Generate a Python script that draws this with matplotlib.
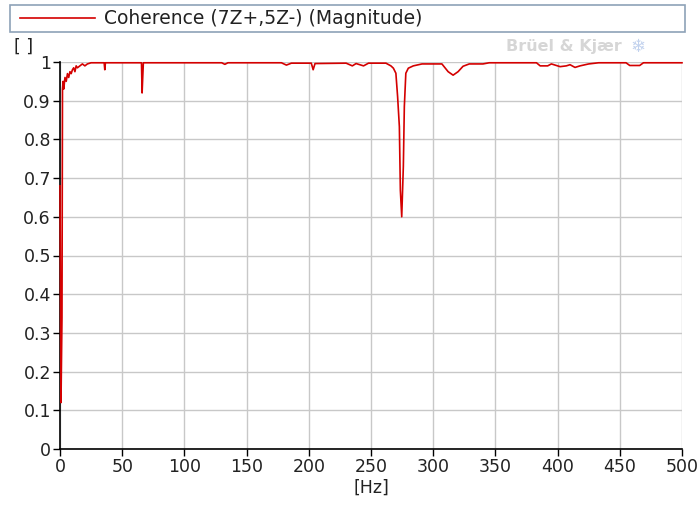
import matplotlib.pyplot as plt
from matplotlib.lines import Line2D
from matplotlib.patches import Rectangle

plt.rcParams["font.family"] = "DejaVu Sans"

# coherence magnitude, breakpoints along the frequency axis
FREQ_HZ = [
    0.0, 0.8, 1.6, 2.0, 2.5, 3.0, 4.0, 5.0, 6.0, 7.0, 8.0, 9.0, 10.0, 11.0,
    12.0, 13.0, 14.0, 16.0, 18.0, 20.0, 22.0, 25.0, 30.0,
    35.5, 36.0, 36.5, 50.0, 65.5, 66.0, 66.5, 67.0,
    130.0, 132.5, 135.0, 178.0, 182.0, 186.0, 202.0, 203.5, 205.0,
    230.0, 235.0, 238.0, 244.0, 248.0, 262.0, 266.0, 268.0, 270.0,
    271.4, 272.8, 273.6, 274.7, 275.3, 276.0, 276.8, 278.0, 280.0,
    284.0, 291.0, 307.0, 312.0, 316.0, 320.0, 324.0, 329.0, 340.0,
    345.0, 383.0, 386.0, 392.0, 395.0, 402.0, 407.0, 410.0, 414.0,
    418.0, 425.0, 433.0, 455.0, 458.0, 466.0, 469.0, 500.0,
]
COHERENCE = [
    0.68, 0.12, 0.34, 0.93, 0.95, 0.93, 0.96, 0.95, 0.97, 0.96, 0.975, 0.97, 0.98, 0.985,
    0.975, 0.99, 0.985, 0.99, 0.995, 0.99, 0.995, 0.998, 0.998,
    0.998, 0.98, 0.998, 0.998, 0.998, 0.92, 0.96, 0.998,
    0.998, 0.994, 0.998, 0.998, 0.992, 0.997, 0.997, 0.98, 0.996,
    0.997, 0.99, 0.996, 0.99, 0.997, 0.997, 0.99, 0.984, 0.971,
    0.91, 0.833, 0.669, 0.60, 0.66, 0.73, 0.885, 0.971, 0.984,
    0.99, 0.995, 0.995, 0.975, 0.966, 0.975, 0.989, 0.995, 0.995,
    0.998, 0.998, 0.99, 0.99, 0.995, 0.988, 0.99, 0.993, 0.986,
    0.99, 0.995, 0.998, 0.998, 0.991, 0.991, 0.998, 0.998,
]
SERIES_LABEL = "Coherence (7Z+,5Z-) (Magnitude)"

X_TICKS = [0, 50, 100, 150, 200, 250, 300, 350, 400, 450, 500]
Y_TICKS = [0, 0.1, 0.2, 0.3, 0.4, 0.5, 0.6, 0.7, 0.8, 0.9, 1]
Y_TICK_LABELS = ["0", "0.1", "0.2", "0.3", "0.4", "0.5", "0.6", "0.7", "0.8", "0.9", "1"]

RED = "#d40000"
TEXT = "#222222"
FS = 12.5

W, H = 700, 515
fig = plt.figure(figsize=(W / 100, H / 100), dpi=100)
ax = fig.add_axes([60 / W, 1 - 449 / H, 622 / W, 387 / H])

ax.plot(FREQ_HZ, COHERENCE, color=RED, linewidth=1.2, clip_on=False, zorder=3)

ax.set_xlim(0, 500)
ax.set_ylim(0, 1)
ax.set_xticks(X_TICKS)
ax.set_yticks(Y_TICKS)
ax.set_yticklabels(Y_TICK_LABELS)
ax.tick_params(axis="both", direction="out", length=5, width=1, colors="black",
               labelcolor=TEXT, labelsize=FS, pad=1.5)
ax.grid(True, color="#c8c8c8", linewidth=1)
ax.set_axisbelow(True)
for side in ("top", "right"):
    ax.spines[side].set_visible(False)
for side in ("left", "bottom"):
    ax.spines[side].set_linewidth(1.2)
ax.set_xlabel("[Hz]", fontsize=FS, color=TEXT, labelpad=2)

fig.text(14 / W, 1 - 47 / H, "[ ]", fontsize=FS, color=TEXT, va="center", ha="left")

# watermark
fig.text(622 / W, 1 - 47 / H, "Brüel & Kjær", fontsize=11.5, fontweight="bold",
         color="#d6d6d6", ha="right", va="center")
fig.text(638 / W, 1 - 47 / H, "\u2744", fontsize=13, color="#c2d2ee", ha="center", va="center")

# legend strip across the top
fig.add_artist(Rectangle((10 / W, 1 - 32 / H), 675 / W, 27 / H, transform=fig.transFigure,
                         facecolor="white", edgecolor="#8ea2b8", linewidth=1.2))
fig.add_artist(Line2D([20 / W, 95 / W], [1 - 18 / H, 1 - 18 / H], transform=fig.transFigure,
                      color=RED, linewidth=1.2))
fig.text(104 / W, 1 - 18 / H, SERIES_LABEL, fontsize=13.5, color=TEXT, ha="left", va="center")

fig.savefig("out.png", dpi=100)
